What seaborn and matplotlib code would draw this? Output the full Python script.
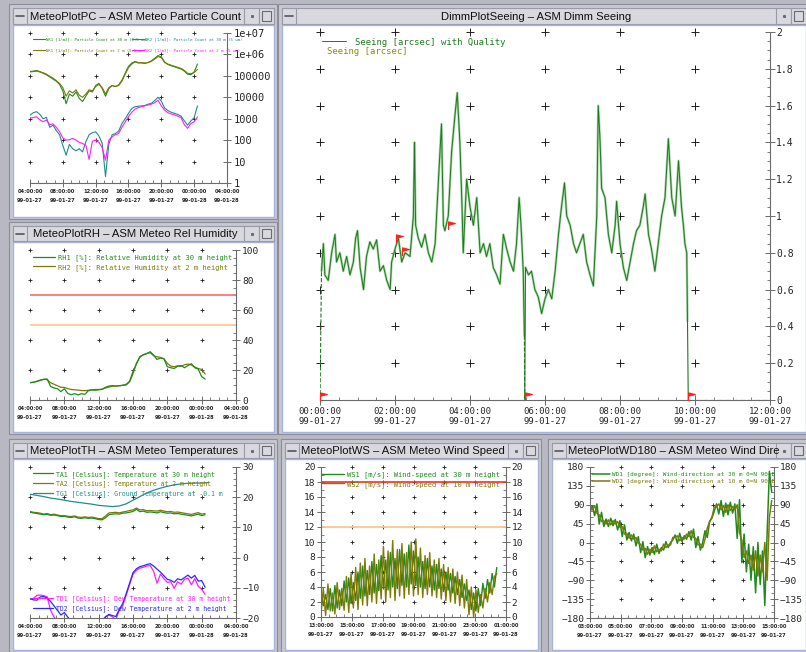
import numpy as np
import matplotlib
matplotlib.use("Agg")
import matplotlib.pyplot as plt
import seaborn as sns
from matplotlib.path import Path
from matplotlib.patches import Rectangle
from matplotlib.ticker import MultipleLocator, LogLocator, NullFormatter

# ---------------- data ----------------
# particle counts, log10(count) sampled every 0.4 h from 04:00
PC_STEP = 0.4
PC_NK1_30 = [5.20, 5.22, 5.25, 5.20, 5.12, 5.05, 4.95, 4.85, 4.75, 4.60,
             4.30, 3.70, 4.15, 4.05, 4.25, 3.95, 3.80, 4.05, 4.30, 4.25,
             4.55, 4.65, 4.40, 4.05, 4.40, 4.55, 4.50, 4.58, 4.80, 5.13,
             5.44, 5.60, 5.67, 5.62, 5.60, 5.58, 5.63, 5.70, 5.82, 5.95,
             5.88, 5.65, 5.53, 5.47, 5.42, 5.37, 5.32, 5.22, 5.08, 5.05,
             5.18, 5.55]
PC_NK1_2 = [5.18, 5.20, 5.22, 5.18, 5.15, 5.08, 4.98, 4.90, 4.78, 4.65,
            4.45, 4.05, 4.30, 4.20, 4.35, 4.10, 4.00, 4.15, 4.35, 4.30,
            4.50, 4.60, 4.45, 4.15, 4.45, 4.55, 4.50, 4.55, 4.75, 5.08,
            5.38, 5.55, 5.65, 5.60, 5.62, 5.60, 5.62, 5.68, 5.78, 5.90,
            5.85, 5.62, 5.55, 5.50, 5.45, 5.40, 5.35, 5.25, 5.12, 5.10,
            5.15, 5.30]
PC_NK2_30 = [3.17, 3.28, 3.33, 3.20, 3.00, 3.06, 2.60, 2.70, 2.45, 2.25,
             1.75, 1.30, 1.80, 1.60, 1.50, 1.60, 1.45, 1.92, 2.25, 2.35,
             2.39, 2.20, 1.84, 0.30, 1.80, 2.25, 2.31, 2.42, 2.78, 3.00,
             3.25, 3.48, 3.56, 3.58, 3.60, 3.62, 3.68, 3.72, 3.85, 4.00,
             3.82, 3.50, 3.38, 3.30, 3.25, 3.20, 3.12, 2.90, 2.70, 2.90,
             3.05, 3.60]
PC_NK2_2 = [3.02, 3.06, 3.09, 2.95, 2.86, 2.94, 2.72, 2.76, 2.60, 2.40,
            2.10, 2.00, 2.02, 2.08, 2.00, 1.90, 1.84, 1.77, 1.10, 1.95,
            2.00, 1.90, 1.65, 1.06, 2.00, 2.16, 2.25, 2.31, 2.60, 2.85,
            3.10, 3.30, 3.45, 3.52, 3.56, 3.60, 3.64, 3.68, 3.75, 3.86,
            3.60, 3.40, 3.28, 3.22, 3.18, 3.12, 3.05, 2.72, 2.55, 2.78,
            2.86, 3.09]

# relative humidity [%], every 0.4 h from 04:00
RH_STEP = 0.4
RH1 = [11.6, 11.8, 12.5, 13.3, 13.8, 14.0, 9.0, 8.0, 7.5, 5.6,
       7.5, 4.4, 3.5, 4.2, 3.4, 4.2, 3.8, 6.2, 6.7, 6.5,
       6.8, 7.1, 8.5, 9.3, 9.6, 9.3, 9.5, 9.8, 10.4, 12.5,
       19.0, 24.0, 29.0, 30.0, 31.0, 32.2, 30.0, 27.0, 28.0, 27.5,
       22.2, 21.5, 21.0, 22.5, 23.0, 21.5, 23.0, 24.2, 21.5, 20.5,
       15.6, 14.0]
RH2 = [11.6, 11.8, 12.4, 13.0, 13.8, 13.6, 11.5, 10.5, 9.5, 8.5,
       8.4, 7.6, 7.0, 6.8, 6.6, 6.3, 6.2, 6.5, 6.8, 7.0,
       7.0, 7.2, 8.0, 8.6, 9.2, 9.3, 9.5, 9.8, 10.0, 12.0,
       17.5, 24.5, 28.5, 30.2, 31.0, 31.5, 29.5, 28.8, 28.4, 27.5,
       24.4, 22.6, 22.2, 22.8, 22.4, 23.5, 24.0, 23.3, 22.0, 21.0,
       20.4, 17.3]
RH_LIMITS = [70, 50]

# temperatures [Celsius], every 0.4 h from 04:00 (ground temp every 0.8 h)
TH_STEP = 0.4
TG_STEP = 0.8
TA1 = [15.0, 14.8, 14.6, 14.4, 14.2, 14.3, 14.0, 14.1, 13.9, 13.6,
       13.7, 13.4, 13.3, 13.5, 13.1, 13.0, 13.2, 13.0, 13.1, 12.9,
       12.6, 12.5, 13.2, 14.2, 14.4, 14.5, 14.4, 14.7, 14.8, 15.0,
       15.3, 16.0, 15.2, 15.4, 15.0, 15.1, 15.0, 14.8, 15.2, 14.9,
       14.7, 14.8, 14.5, 14.6, 14.4, 14.2, 14.0, 13.8, 14.1, 14.4,
       13.9, 14.2]
TA2 = [15.3, 15.0, 14.9, 14.7, 14.4, 14.6, 14.2, 14.4, 14.1, 13.9,
       13.9, 13.7, 13.6, 13.8, 13.4, 13.3, 13.5, 13.3, 13.4, 13.2,
       12.9, 12.9, 13.8, 14.8, 14.9, 15.0, 14.8, 15.1, 15.3, 15.6,
       15.8, 16.4, 15.8, 15.9, 15.5, 15.6, 15.5, 15.4, 15.7, 15.4,
       15.2, 15.3, 15.0, 15.1, 14.9, 14.7, 14.5, 14.3, 14.6, 14.9,
       14.4, 14.6]
TG1 = [21.0, 20.6, 20.2, 19.7, 19.4, 19.0, 18.6, 18.3, 18.0, 17.7,
       17.3, 17.1, 16.9, 17.1, 17.8, 19.0, 20.2, 21.4, 22.3, 23.0,
       23.6, 24.1, 24.4, 24.6, 24.7, 24.7, 24.8]
TD1 = [-13.8, -13.5, -12.5, -12.4, -12.6, -13.0, -17.5, -19.7, -21.0, -22.0,
       -21.0, -22.0, -23.0, -23.0, -22.0, -23.0, -24.0, -23.0, -22.0, -23.0,
       -22.0, -21.0, -19.5, -19.0, -19.6, -20.5, -17.5, -16.0, -12.5, -9.0,
       -5.5, -4.2, -3.5, -3.2, -2.8, -2.6, -4.5, -8.5, -5.5, -7.0,
       -8.2, -8.0, -10.2, -8.0, -8.8, -7.2, -6.8, -9.0, -7.0, -9.5,
       -10.5, -12.2]
TD2 = [-13.6, -14.0, -14.1, -13.0, -12.9, -13.4, -14.5, -16.0, -17.5, -19.0,
       -18.2, -19.7, -21.0, -22.0, -22.0, -23.0, -22.0, -23.0, -22.0, -22.0,
       -22.5, -21.0, -19.7, -18.8, -19.2, -19.5, -17.2, -15.2, -12.0, -8.5,
       -5.0, -3.7, -3.0, -2.7, -2.3, -2.0, -2.8, -3.8, -4.8, -6.0,
       -7.2, -7.5, -8.2, -7.0, -7.4, -6.6, -5.8, -6.8, -5.9, -7.8,
       -7.6, -9.8]

# DIMM seeing [arcsec], hours after 00:00
SEE_A_T = [0.04, 0.09, 0.13, 0.22, 0.31, 0.40, 0.44, 0.53, 0.62, 0.71,
           0.80, 0.89, 0.95, 1.00, 1.07, 1.16, 1.24, 1.33, 1.42, 1.51,
           1.60, 1.69, 1.78, 1.87, 1.91, 2.00, 2.09, 2.18, 2.27, 2.40,
           2.49, 2.52, 2.55, 2.62, 2.71, 2.80, 2.89, 2.98, 3.07, 3.16,
           3.24, 3.29, 3.33, 3.42, 3.51, 3.60, 3.66, 3.73, 3.78, 3.82,
           3.91, 4.00, 4.09, 4.18, 4.27, 4.36, 4.44, 4.53, 4.62, 4.71,
           4.80, 4.89, 4.98, 5.07, 5.16, 5.24, 5.31, 5.36, 5.42, 5.45]
SEE_A_V = [0.70, 0.85, 0.68, 0.65, 0.80, 0.90, 0.75, 0.80, 0.70, 0.78,
           0.68, 0.75, 0.88, 0.92, 0.72, 0.60, 0.78, 0.86, 0.82, 0.87,
           0.70, 0.73, 0.65, 0.60, 0.75, 0.82, 0.88, 0.75, 0.80, 0.78,
           1.00, 1.40, 0.95, 0.88, 0.83, 0.90, 0.80, 0.75, 0.85, 1.20,
           1.50, 0.95, 0.92, 1.00, 1.35, 1.55, 1.67, 1.40, 1.10, 0.80,
           1.20, 1.05, 0.95, 1.10, 0.80, 0.85, 0.78, 0.85, 0.72, 0.68,
           0.63, 0.90, 0.82, 0.75, 0.70, 0.85, 1.10, 0.95, 0.70, 0.35]
SEE_B_T = [5.48, 5.56, 5.64, 5.73, 5.82, 5.91, 6.00, 6.09, 6.18, 6.27,
           6.36, 6.44, 6.52, 6.58, 6.67, 6.76, 6.84, 6.93, 7.02, 7.11,
           7.20, 7.29, 7.38, 7.42, 7.47, 7.51, 7.60, 7.69, 7.78, 7.87,
           7.91, 8.00, 8.09, 8.18, 8.27, 8.36, 8.44, 8.53, 8.62, 8.67,
           8.76, 8.84, 8.93, 9.02, 9.11, 9.20, 9.29, 9.38, 9.47, 9.56,
           9.64, 9.69, 9.73, 9.78, 9.80]
SEE_B_V = [0.72, 0.68, 0.70, 0.60, 0.56, 0.47, 0.55, 0.60, 0.55, 0.70,
           0.90, 1.05, 1.18, 1.00, 0.95, 0.85, 0.80, 0.85, 0.90, 0.75,
           0.68, 0.62, 1.00, 1.60, 1.40, 1.15, 1.10, 0.90, 0.80, 0.95,
           1.08, 0.85, 0.72, 0.65, 0.75, 0.85, 0.92, 0.95, 1.05, 1.12,
           0.90, 0.82, 0.70, 0.85, 1.00, 1.10, 1.42, 1.10, 1.00, 1.30,
           1.05, 0.95, 0.85, 0.80, 0.43]
SEE_OFF_T = [9.82, 12.0]
SEE_OFF_V = [0.0, 0.0]
FLAG_T = [0.00, 2.02, 2.18, 3.42, 5.46, 9.82]
FLAG_V = [0.00, 0.86, 0.79, 0.93, 0.00, 0.00]

# wind speed [m/s], every 0.15 h from 13:00
WS_STEP = 0.15
WS1 = [3.5, 1.5, 3.0, 1.0, 3.8, 0.8, 4.2, 1.2, 3.6, 1.5,
       4.8, 2.0, 5.2, 1.8, 4.6, 2.2, 6.0, 2.5, 6.8, 2.8,
       6.2, 3.0, 7.4, 3.2, 7.0, 3.5, 8.2, 3.8, 7.6, 3.6,
       8.6, 4.0, 7.8, 3.8, 9.0, 4.2, 8.4, 4.0, 9.6, 4.4,
       8.8, 4.2, 8.0, 4.0, 7.4, 3.8, 7.8, 4.0, 6.8, 3.6,
       7.0, 3.8, 6.4, 3.4, 6.0, 3.6, 5.8, 3.2, 5.4, 3.0,
       5.0, 2.6, 4.4, 2.2, 3.6, 1.0, 3.2, 0.8, 3.8, 1.5,
       4.5, 2.5, 5.0, 3.2, 5.8, 4.0, 6.6]
WS2 = [0.5, 3.8, 0.2, 4.4, 0.8, 3.2, 0.4, 4.6, 1.0, 3.8,
       0.9, 5.4, 0.6, 5.8, 1.2, 6.6, 1.0, 7.2, 1.6, 7.8,
       1.5, 6.8, 2.0, 8.4, 1.8, 7.6, 2.4, 9.4, 2.0, 8.8,
       2.6, 10.2, 2.2, 9.0, 2.8, 9.8, 2.5, 8.6, 3.0, 10.0,
       2.8, 10.4, 3.0, 9.2, 2.6, 8.2, 3.0, 8.6, 2.8, 7.6,
       2.6, 7.8, 2.4, 7.0, 2.2, 6.6, 2.0, 6.4, 1.8, 6.0,
       1.5, 5.6, 1.2, 5.0, 0.3, 4.0, 0.0, 3.6, 0.6, 3.0,
       1.2, 3.8, 2.0, 4.6, 3.0, 5.4, 5.8]
WS_LIMITS = [18, 12]

# wind direction [degree], every 0.15 h from 03:00
WD_STEP = 0.15
WD1 = [72, 88, 64, 92, 44, 72, 38, 56, 38, 58,
       40, 55, 30, 52, 14, 42, 6, 24, 4, 20,
       -8, 14, -24, 2, -36, -10, -30, -12, -28, -4,
       -26, -12, -18, 2, -12, 0, 6, 18, -2, 22,
       2, 16, 8, 26, 6, 32, -12, 14, -18, 0,
       28, 12, 50, 58, 74, 92, 68, 100, 62, 94,
       66, 96, 70, 92, 10, 102, -48, 20, -70, -4,
       -90, -10, -120, 0, -100, -20, -150, 20, 170, 120]
WD2 = [84, 78, 88, 70, 66, 50, 52, 44, 54, 42,
       52, 44, 50, 36, 38, 20, 22, 10, 18, 8,
       12, -2, -4, -18, -14, -28, -16, -24, -8, -22,
       -16, -20, -4, -12, -6, -6, 12, 12, 16, 4,
       12, 8, 20, 14, 28, 12, 10, -6, -4, -12,
       8, 34, 50, 60, 84, 86, 92, 78, 88, 72,
       90, 76, 86, 78, 90, 24, 6, -36, -20, -50,
       -30, -66, -20, -80, -30, -70, 0, -90, 60, 100]

# tick labels
DAY_TICKS = [0, 4, 8, 12, 16, 20, 24]
DAY_LABELS = ["04:00:00\n99-01-27", "08:00:00\n99-01-27", "12:00:00\n99-01-27",
              "16:00:00\n99-01-27", "20:00:00\n99-01-27", "00:00:00\n99-01-28",
              "04:00:00\n99-01-28"]
HALF_TICKS = [0, 2, 4, 6, 8, 10, 12]
SEE_LABELS = ["00:00:00\n99-01-27", "02:00:00\n99-01-27", "04:00:00\n99-01-27",
              "06:00:00\n99-01-27", "08:00:00\n99-01-27", "10:00:00\n99-01-27",
              "12:00:00\n99-01-27"]
WS_LABELS = ["13:00:00\n99-01-27", "15:00:00\n99-01-27", "17:00:00\n99-01-27",
             "19:00:00\n99-01-27", "21:00:00\n99-01-27", "23:00:00\n99-01-27",
             "01:00:00\n99-01-28"]
WD_LABELS = ["03:00:00\n99-01-27", "05:00:00\n99-01-27", "07:00:00\n99-01-27",
             "09:00:00\n99-01-27", "11:00:00\n99-01-27", "13:00:00\n99-01-27",
             "15:00:00\n99-01-27"]
PC_YTICKS = [1, 10, 100, 1000, 1e4, 1e5, 1e6, 1e7]
PC_YLABELS = ["1", "10", "100", "1000", "10000", "100000", "1e+06", "1e+07"]
RH_YTICKS = [0, 20, 40, 60, 80, 100]
TH_YTICKS = [-20, -10, 0, 10, 20, 30]
SEE_YTICKS = [0, 0.2, 0.4, 0.6, 0.8, 1.0, 1.2, 1.4, 1.6, 1.8, 2.0]
SEE_YLABELS = ["0", "0.2", "0.4", "0.6", "0.8", "1", "1.2", "1.4", "1.6", "1.8", "2"]
WS_YTICKS = [0, 2, 4, 6, 8, 10, 12, 14, 16, 18, 20]
WD_YTICKS = [-180, -135, -90, -45, 0, 45, 90, 135, 180]

GREEN = '#1f8a1f'
OLIVE = '#7d7a05'
TEAL = '#218c8c'
MAGENTA = '#ff1cff'
BLUE = '#2a2aff'
SEE_DARK = '#1d7a1d'
SEE_LIGHT = '#a3d2a3'
AXC = '#6a6a6a'
MONO = 'DejaVu Sans Mono'

sns.set_theme(style='white')
plt.rcParams['font.family'] = ['DejaVu Sans']

W, H = 806, 652
fig = plt.figure(figsize=(W / 100, H / 100), dpi=100, facecolor='#b8b8c2')

# ---------------- window chrome ----------------
bg = fig.add_axes([0, 0, 1, 1], zorder=-10)
bg.set_xlim(0, W)
bg.set_ylim(H, 0)
bg.axis('off')


def box(x0, y0, x1, y1, fc, ec=None, lw=0.8):
    bg.add_patch(Rectangle((x0, y0), x1 - x0, y1 - y0, facecolor=fc,
                           edgecolor=ec if ec else fc, linewidth=lw))


def window(content, bar, title, tx, centered=False):
    cx0, cy0, cx1, cy1 = content
    bx0, by0, bx1, by1 = bar
    box(cx0 - 4, by0 - 4, cx1 + 3, cy1 + 2, '#c8c8d0', '#8c8c9a')
    box(bx0, by0, bx1, by1, '#d8d8de', '#989aa8')
    box(cx0, cy0, cx1, cy1, 'white', '#a6b4dc', lw=1.0)
    box(bx0, by0, bx0 + 14, by1, '#d8d8de', '#989aa8')
    bg.plot([bx0 + 3, bx0 + 11], [(by0 + by1) / 2] * 2, color='#55555f', lw=1.2)
    box(bx1 - 30, by0, bx1 - 15, by1, '#d8d8de', '#989aa8')
    bg.plot([bx1 - 22.5], [(by0 + by1) / 2], marker='s', ms=1.2, color='#6a6a74')
    box(bx1 - 15, by0, bx1, by1, '#d8d8de', '#989aa8')
    box(bx1 - 12, by0 + 3, bx1 - 3, by1 - 3, 'none', '#6a6a74')
    bg.text(tx, (by0 + by1) / 2 + 0.5, title, fontsize=8.1, family='Liberation Sans',
            ha='center' if centered else 'left', va='center', color='#101010')


window((13, 25, 274, 217), (13, 8, 274, 24), "MeteoPlotPC \u2013 ASM Meteo Particle Count", 30)
window((13, 242, 274, 432), (13, 226, 274, 241), "MeteoPlotRH \u2013 ASM Meteo Rel Humidity", 33)
window((13, 459, 274, 650), (13, 443, 274, 458), "MeteoPlotTH \u2013 ASM Meteo Temperatures", 30)
window((282, 25, 806, 432), (282, 8, 806, 24), "DimmPlotSeeing \u2013 ASM Dimm Seeing", 536, True)
window((285, 459, 538, 650), (285, 443, 538, 458), "MeteoPlotWS \u2013 ASM Meteo Wind Speed", 301)
window((552, 459, 806, 650), (552, 443, 806, 458), "MeteoPlotWD180 \u2013 ASM Meteo Wind Dire", 568)


# ---------------- helpers ----------------
def axes_px(x0, y0, x1, y1):
    ax = fig.add_axes([x0 / W, 1 - y1 / H, (x1 - x0) / W, (y1 - y0) / H])
    ax.set_facecolor('none')
    return ax


def line(ax, x, y, color, lw, label=None, **kw):
    sns.lineplot(x=list(x), y=list(y), ax=ax, color=color, linewidth=lw, label=label,
                 estimator=None, errorbar=None, sort=False, legend=False, **kw)
    return ax.lines[-1]


def style(ax, both_y=False, major=6.0, pad_x=1.5, pad_y=1.5):
    ax.grid(False)
    ax.spines['top'].set_visible(False)
    ax.spines['left'].set_visible(both_y)
    for s in ('left', 'right', 'bottom'):
        ax.spines[s].set_color(AXC)
        ax.spines[s].set_linewidth(0.8)
    ax.xaxis.set_ticks_position('bottom')
    ax.yaxis.set_ticks_position('both' if both_y else 'right')
    ax.tick_params(axis='y', which='both', left=both_y, right=True,
                   labelleft=both_y, labelright=True, pad=pad_y)
    ax.tick_params(axis='x', which='both', bottom=True, top=False, pad=pad_x)
    ax.tick_params(which='major', direction='inout', length=major, width=0.7,
                   color=AXC, labelcolor='#262626')
    ax.tick_params(which='minor', direction='in', length=2.3, width=0.6, color=AXC)
    ax.set_xlabel('')
    ax.set_ylabel('')


def small_xlabels(ax, ticks, labels):
    ax.set_xticks(ticks, labels, fontsize=3.7, fontweight='bold',
                  family='DejaVu Sans', linespacing=1.9)


def plus_grid(ax, xs, ys, s, lw=0.6):
    gx, gy = np.meshgrid(xs, ys)
    ax.scatter(gx.ravel(), gy.ravel(), marker='+', s=s, color='#1e1e1e',
               linewidths=lw, zorder=1, clip_on=False)


def legend(ax, handles, anchor, size, hlen, spacing, pad=0.5):
    leg = ax.legend(handles=handles, loc='upper left', bbox_to_anchor=anchor,
                    frameon=False, borderaxespad=0, borderpad=0, handlelength=hlen,
                    handletextpad=pad, labelspacing=spacing,
                    prop={'family': MONO, 'size': size})
    for h, t in zip(leg.legend_handles, leg.get_texts()):
        t.set_color(h.get_color())
    return leg


# ---------------- particle count ----------------
ax = axes_px(30, 33, 227, 183)
ax.set_yscale('log')
t = np.arange(len(PC_NK1_30)) * PC_STEP
plus_grid(ax, DAY_TICKS[:-1], PC_YTICKS[1:], 8)
h1 = line(ax, t, 10 ** np.array(PC_NK1_30), GREEN, 0.8,
          "NK1 [1/m3]: Particle Count at 30 m (0.5 um)")
h2 = line(ax, t, 10 ** np.array(PC_NK1_2), OLIVE, 0.8,
          "NK1 [1/m3]: Particle Count at 2 m (0.5 um)")
h3 = line(ax, t, 10 ** np.array(PC_NK2_30), TEAL, 0.8,
          "NK2 [1/m3]: Particle Count at 30 m (5 um)")
h4 = line(ax, t, 10 ** np.array(PC_NK2_2), MAGENTA, 0.8,
          "NK2 [1/m3]: Particle Count at 2 m (5 um)")
ax.set_xlim(0, 24)
ax.set_ylim(1, 1e7)
style(ax, pad_y=2)
small_xlabels(ax, DAY_TICKS, DAY_LABELS)
ax.set_yticks(PC_YTICKS, PC_YLABELS, family=MONO, fontsize=7.5)
ax.xaxis.set_minor_locator(MultipleLocator(1))
ax.yaxis.set_minor_locator(LogLocator(base=10, subs=np.arange(2, 10)))
ax.yaxis.set_minor_formatter(NullFormatter())
l1 = legend(ax, [h1, h2], (0.015, 0.97), 2.9, 3.0, 1.6, 0.3)
ax.add_artist(l1)
legend(ax, [h3, h4], (0.518, 0.97), 2.9, 3.0, 1.6, 0.3)

# ---------------- relative humidity ----------------
ax = axes_px(30, 250, 236, 400)
t = np.arange(len(RH1)) * RH_STEP
plus_grid(ax, DAY_TICKS[:-1], RH_YTICKS[1:], 8)
ax.axhline(RH_LIMITS[0], color='#f27a7a', lw=1.3, zorder=1.5)
ax.axhline(RH_LIMITS[1], color='#ffc993', lw=1.3, zorder=1.5)
h2 = line(ax, t, RH2, OLIVE, 0.9, "RH2 [%]: Relative Humidity at 2 m height")
h1 = line(ax, t, RH1, GREEN, 0.9, "RH1 [%]: Relative Humidity at 30 m height")
ax.set_xlim(0, 24)
ax.set_ylim(0, 100)
style(ax)
small_xlabels(ax, DAY_TICKS, DAY_LABELS)
ax.set_yticks(RH_YTICKS, [str(v) for v in RH_YTICKS], family=MONO, fontsize=6.8)
ax.xaxis.set_minor_locator(MultipleLocator(1))
ax.yaxis.set_minor_locator(MultipleLocator(5))
legend(ax, [h1, h2], (0.015, 0.973), 5.0, 3.2, 0.45, 0.45)

# ---------------- temperatures ----------------
ax = axes_px(30, 467, 236, 618)
t = np.arange(len(TA1)) * TH_STEP
plus_grid(ax, DAY_TICKS[:-1], TH_YTICKS[1:], 8)
hg = line(ax, np.arange(len(TG1)) * TG_STEP, TG1, TEAL, 0.9,
          "TG1 [Celsius]: Ground Temperature at -0.1 m")
ha2 = line(ax, t, TA2, OLIVE, 0.9, "TA2 [Celsius]: Temperature at 2 m height")
ha1 = line(ax, t, TA1, GREEN, 0.9, "TA1 [Celsius]: Temperature at 30 m height")
hd1 = line(ax, t, TD1, MAGENTA, 0.9, "TD1 [Celsius]: Dew Temperature at 30 m height")
hd2 = line(ax, t, TD2, BLUE, 0.9, "TD2 [Celsius]: Dew Temperature at 2 m height")
ax.set_xlim(0, 24)
ax.set_ylim(-20, 30)
style(ax)
small_xlabels(ax, DAY_TICKS, DAY_LABELS)
ax.set_yticks(TH_YTICKS, [str(v).replace('-', '\u2212') for v in TH_YTICKS],
              family=MONO, fontsize=6.8)
ax.xaxis.set_minor_locator(MultipleLocator(1))
ax.yaxis.set_minor_locator(MultipleLocator(2))
l1 = legend(ax, [ha1, ha2, hg], (0.015, 0.975), 4.7, 3.1, 0.45, 0.45)
ax.add_artist(l1)
legend(ax, [hd1, hd2], (0.015, 0.148), 4.7, 3.1, 0.45, 0.45)

# ---------------- DIMM seeing ----------------
ax = axes_px(320, 32, 770, 400)
plus_grid(ax, HALF_TICKS[:-1], SEE_YTICKS[1:], 30, lw=0.7)
line(ax, SEE_A_T, SEE_A_V, SEE_LIGHT, 1.7)
line(ax, SEE_B_T, SEE_B_V, SEE_LIGHT, 1.7)
line(ax, SEE_OFF_T, SEE_OFF_V, SEE_LIGHT, 1.0, linestyle='--')
hs = line(ax, SEE_A_T, SEE_A_V, SEE_DARK, 0.7, "Seeing [arcsec] with Quality")
line(ax, SEE_B_T, SEE_B_V, SEE_DARK, 0.7)
line(ax, [FLAG_T[0], SEE_A_T[0]], [FLAG_V[0], SEE_A_V[0]], SEE_DARK, 0.8, linestyle='--')
line(ax, [SEE_A_T[-1], FLAG_T[4]], [SEE_A_V[-1], FLAG_V[4]], SEE_DARK, 0.8, linestyle='--')
line(ax, [FLAG_T[4], SEE_B_T[0]], [FLAG_V[4], SEE_B_V[0]], SEE_DARK, 0.8)
line(ax, [SEE_B_T[-1], FLAG_T[5]], [SEE_B_V[-1], FLAG_V[5]], SEE_DARK, 0.8)
flag = Path([(0, 0), (0, 1), (0.9, 0.78), (0, 0.56), (0, 0)])
ax.plot(FLAG_T, FLAG_V, linestyle='none', marker=flag, markersize=11,
        color='#ff2020', markeredgewidth=0.8, zorder=5, clip_on=False)
ax.set_xlim(0, 12)
ax.set_ylim(0, 2)
style(ax, major=7.5, pad_x=1.2, pad_y=0.5)
ax.set_xticks(HALF_TICKS, SEE_LABELS, family=MONO, fontsize=6.5, linespacing=1.15)
ax.set_yticks(SEE_YTICKS, SEE_YLABELS, family=MONO, fontsize=7)
ax.xaxis.set_minor_locator(MultipleLocator(0.5))
ax.yaxis.set_minor_locator(MultipleLocator(0.05))
legend(ax, [hs], (0.004, 0.985), 6.4, 2.7, 0.0, 1.0)
ax.text(0.016, 0.946, "Seeing [arcsec]", transform=ax.transAxes, family=MONO,
        fontsize=6.4, color='#8a8a12', va='center', ha='left')

# ---------------- wind speed ----------------
ax = axes_px(321, 467, 506, 617)
t = np.arange(len(WS1)) * WS_STEP
plus_grid(ax, HALF_TICKS[1:-1], WS_YTICKS[1:], 8)
ax.axhline(WS_LIMITS[0], color='#ff2a2a', lw=1.2, zorder=1.5)
ax.axhline(WS_LIMITS[1], color='#ffc48a', lw=1.3, zorder=1.5)
hw1 = line(ax, t, WS1, GREEN, 1.0, "WS1 [m/s]: Wind-speed at 30 m height")
hw2 = line(ax, t, WS2, OLIVE, 1.0, "WS2 [m/s]: Wind-speed at 10 m height")
ax.set_xlim(0, 12)
ax.set_ylim(0, 20)
style(ax, both_y=True, pad_y=1)
small_xlabels(ax, HALF_TICKS, WS_LABELS)
ax.set_yticks(WS_YTICKS, [str(v) for v in WS_YTICKS], family=MONO, fontsize=6.8)
ax.xaxis.set_minor_locator(MultipleLocator(0.5))
ax.yaxis.set_minor_locator(MultipleLocator(1))
legend(ax, [hw1, hw2], (0.005, 0.97), 5.1, 3.1, 0.38, 0.4)

# ---------------- wind direction ----------------
ax = axes_px(590, 467, 774, 618)
t = np.arange(len(WD1)) * WD_STEP
plus_grid(ax, HALF_TICKS[1:-1], WD_YTICKS[1:], 8)
hd1 = line(ax, t, WD1, GREEN, 1.1, "WD1 [degree]: Wind-direction at 30 m 0=N 90=E")
hd2 = line(ax, t, WD2, OLIVE, 1.1, "WD2 [degree]: Wind-direction at 10 m 0=N 90=E")
ax.set_xlim(0, 12)
ax.set_ylim(-180, 180)
style(ax, both_y=True, pad_y=1)
small_xlabels(ax, HALF_TICKS, WD_LABELS)
ax.set_yticks(WD_YTICKS, [str(v).replace('-', '\u2212') for v in WD_YTICKS],
              family=MONO, fontsize=6.8)
ax.xaxis.set_minor_locator(MultipleLocator(0.5))
ax.yaxis.set_minor_locator(MultipleLocator(15))
legend(ax, [hd1, hd2], (0.01, 0.97), 4.3, 3.0, 0.4, 0.4)

fig.savefig('out.png', dpi=100, facecolor=fig.get_facecolor())
